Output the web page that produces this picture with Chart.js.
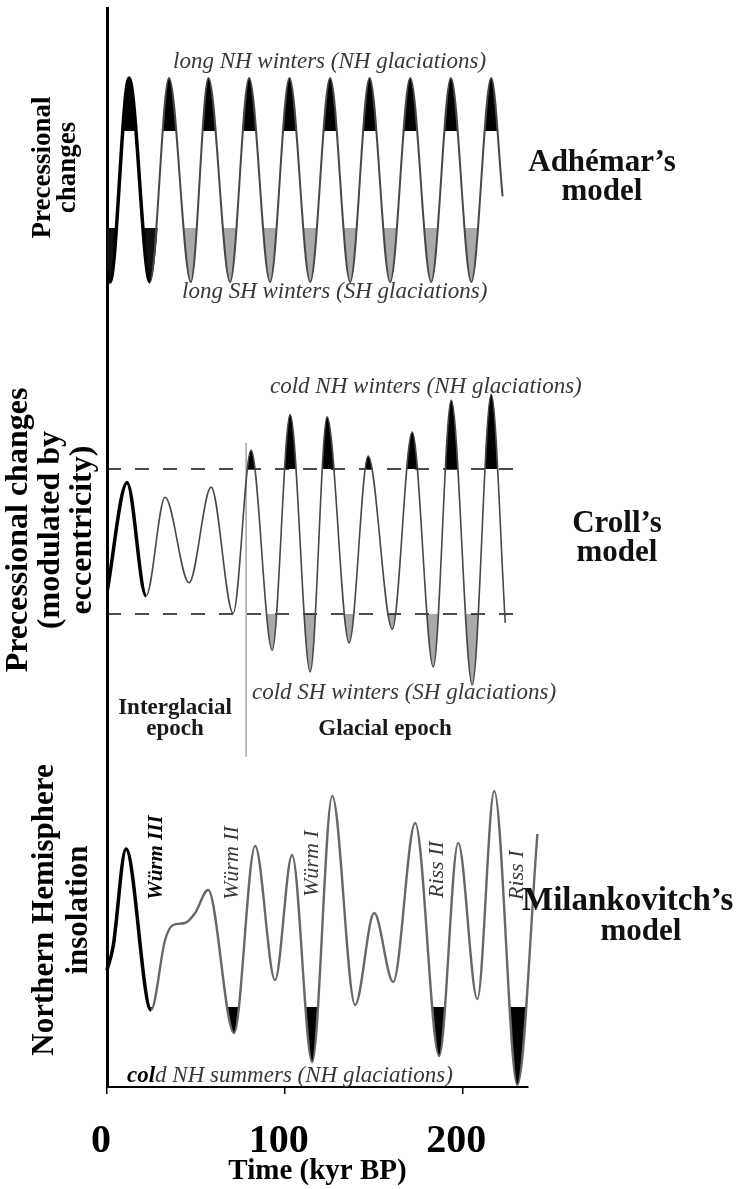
<!DOCTYPE html>
<html>
<head>
<meta charset="utf-8">
<title>Adhémar, Croll and Milankovitch models</title>
<script src="https://cdn.jsdelivr.net/npm/chart.js@4.4.1/dist/chart.umd.min.js"></script>
<style>
html,body{margin:0;padding:0;background:#fff;}
#c{display:block;}
</style>
</head>
<body>
<canvas id="c" width="756" height="1189"></canvas>
<script>
// ---------- shared time axis (kyr BP) ----------
const xTickValues = [0, 100, 200];
const xTickLabels = ['0', '100', '200'];

// ---------- Adhémar's model: precessional changes (normalised) ----------
const adhemarTime  = [0, 1.7, 12.4, 24.2, 34.9, 47.2, 57.1, 69.3, 80.0, 91.8, 102.7, 114.4, 125.6, 136.9, 147.8, 159.4, 170.7, 182.5, 193.6, 205.1, 216.3, 222.7];
const adhemarValue = [-0.89, -1, 1, -1, 1, -1, 1, -1, 1, -1, 1, -1, 1, -1, 1, -1, 1, -1, 1, -1, 1, -0.16];
const adhemarNH = 0.48;   // long NH winters above this level
const adhemarSH = -0.47;  // long SH winters below this level

// ---------- Croll's model: precession modulated by eccentricity ----------
const crollTime  = [0, 11.3, 22.0, 32.7, 46.2, 58.6, 71.0, 81.1, 93.0, 103.1, 114.4, 123.9, 136.3, 147.0, 160.6, 171.8, 183.7, 193.8, 205.6, 216.3, 224.2];
const crollValue = [-0.70, 0.81, -0.75, 0.61, -0.57, 0.75, -0.99, 1.26, -1.50, 1.75, -1.80, 1.72, -1.40, 1.18, -1.21, 1.51, -1.73, 1.95, -1.98, 2.03, -1.12];
const crollNH = 1;        // cold NH winters above
const crollSH = -1;       // cold SH winters below
const crollLevelTime = [0, 230.4];
const epochBoundaryTime = [78.3, 78.3];
const epochBoundaryValue = [1.36, -2.97];

// ---------- Milankovitch's model: NH summer insolation ----------
const milankTime  = [0, 3.4, 10.7, 24.8, 32.7, 37.2, 43.9, 49.6, 56.9, 71.5, 83.4, 94.6, 104.2, 115.5, 126.8, 139.7, 150.4, 161.1, 173.5, 187.0, 197.7, 208.5, 218.0, 231.0, 242.3];
const milankValue = [9.2, 15.0, 39.5, -0.75, 16.75, 20.5, 21.0, 23.5, 29.25, -6.5, 40.25, 6.75, 38.0, -13.75, 52.75, 0.5, 23.5, 6.25, 46.0, -12.25, 41.0, 2.0, 54.0, -19.5, 43.25];
const milankCold = 0;     // cold NH summers below

// ---------- helpers ----------
const pts = (xs, ys) => xs.map((x, i) => ({x: x, y: ys[i]}));
const SERIF = '"Liberation Serif", "Times New Roman", serif';
Chart.defaults.font.family = SERIF;

const GRAY_LINE = '#484848';
const BOLD = 3.5;
const boldUntil = n => ({
  borderColor: ctx => ctx.p0DataIndex < n ? '#000' : undefined,
  borderWidth: ctx => ctx.p0DataIndex < n ? BOLD : undefined
});
const base = {type: 'line', pointRadius: 0, pointHoverRadius: 0, cubicInterpolationMode: 'monotone'};

const datasets = [
  Object.assign({}, base, {
    label: 'Adhémar', yAxisID: 'yA', data: pts(adhemarTime, adhemarValue),
    borderColor: GRAY_LINE, borderWidth: 2, segment: boldUntil(3),
    fill: {target: {value: adhemarNH}, above: '#000', below: 'rgba(0,0,0,0)'}
  }),
  Object.assign({}, base, {
    label: 'Croll', yAxisID: 'yC', data: pts(crollTime, crollValue),
    borderColor: GRAY_LINE, borderWidth: 1.6, segment: boldUntil(2),
    fill: {target: {value: crollNH}, above: '#000', below: 'rgba(0,0,0,0)'}
  }),
  Object.assign({}, base, {
    label: 'Milankovitch', yAxisID: 'yM', data: pts(milankTime, milankValue),
    borderColor: '#676767', borderWidth: 2.4, segment: boldUntil(3), clip: false,
    fill: {target: {value: milankCold}, above: 'rgba(0,0,0,0)', below: '#000'}
  }),
  Object.assign({}, base, {
    label: 'epoch boundary', yAxisID: 'yC', data: pts(epochBoundaryTime, epochBoundaryValue),
    borderColor: '#777', borderWidth: 1, fill: false, clip: false
  }),
  Object.assign({}, base, {
    label: 'upper level', yAxisID: 'yC', data: pts(crollLevelTime, [crollNH, crollNH]),
    borderColor: '#111', borderWidth: 1.6, borderDash: [14, 14], fill: false
  }),
  Object.assign({}, base, {
    label: 'lower level', yAxisID: 'yC', data: pts(crollLevelTime, [crollSH, crollSH]),
    borderColor: '#111', borderWidth: 1.6, borderDash: [14, 14], fill: false
  }),
  Object.assign({}, base, {
    label: 'Adhémar early SH', yAxisID: 'yA', data: pts(adhemarTime.slice(0, 5), adhemarValue.slice(0, 5)),
    borderColor: 'rgba(0,0,0,0)', borderWidth: 0,
    fill: {target: {value: adhemarSH}, above: 'rgba(0,0,0,0)', below: '#111'}
  }),
  Object.assign({}, base, {
    label: 'Adhémar SH', yAxisID: 'yA', data: pts(adhemarTime, adhemarValue),
    borderColor: 'rgba(0,0,0,0)', borderWidth: 0,
    fill: {target: {value: adhemarSH}, above: 'rgba(0,0,0,0)', below: '#a9a9a9'}
  }),
  Object.assign({}, base, {
    label: 'Croll SH', yAxisID: 'yC', data: pts(crollTime, crollValue),
    borderColor: 'rgba(0,0,0,0)', borderWidth: 0,
    fill: {target: {value: crollSH}, above: 'rgba(0,0,0,0)', below: '#a9a9a9'}
  })
];

const leftAxis = (weight, min, max, lines, size, lh, pad) => ({
  type: 'linear', position: 'left', stack: 'panels', stackWeight: weight,
  min: min, max: max,
  grid: {display: false, drawTicks: false},
  ticks: {display: false},
  border: {display: true, color: '#000', width: 3},
  title: {display: true, text: lines, color: '#000',
          font: {family: SERIF, size: size, weight: 'bold', lineHeight: lh + 'px'},
          padding: {top: pad, bottom: 0}},
  afterFit: s => { s.width = 107; }
});

const annotations = {
  id: 'annotations',
  afterDraw(chart) {
    const c = chart.ctx;
    const text = (str, x, y, font, color, align, angle) => {
      c.save();
      c.font = font; c.fillStyle = color;
      c.textAlign = align || 'left'; c.textBaseline = 'alphabetic';
      c.translate(x, y);
      if (angle) c.rotate(angle);
      c.fillText(str, 0, 0);
      c.restore();
      c.font = font;
      return c.measureText(str).width;
    };
    const IT = 'italic 23px ' + SERIF;
    const GR = '#383838';
    const UP = -Math.PI / 2;
    // Adhémar
    text('long NH winters (NH glaciations)', 173, 68, IT, GR);
    text('long SH winters (SH glaciations)', 182, 298, IT, GR);
    // Croll
    text('cold NH winters (NH glaciations)', 270, 393, IT, GR);
    text('cold SH winters (SH glaciations)', 252, 699, IT, GR);
    const EP = 'bold 23px ' + SERIF;
    text('Interglacial', 175, 714, EP, '#1a1a1a', 'center');
    text('epoch', 175, 735, EP, '#1a1a1a', 'center');
    text('Glacial epoch', 385, 735, EP, '#1a1a1a', 'center');
    // Milankovitch stage names
    text('Würm III', 162, 900, 'bold italic 21px ' + SERIF, '#000', 'left', UP);
    const ST = 'italic 22px ' + SERIF;
    text('Würm II', 238, 900, ST, GR, 'left', UP);
    text('Würm I', 318, 897, ST, GR, 'left', UP);
    text('Riss II', 443, 898, ST, GR, 'left', UP);
    text('Riss I', 523, 900, ST, GR, 'left', UP);
    const w = text('col', 127, 1082, 'bold italic 23px ' + SERIF, '#000');
    text('d NH summers (NH glaciations)', 127 + w, 1082, IT, GR);
    // model names
    const MF = 'bold 31px ' + SERIF;
    text('Adhémar’s', 602, 171, MF, '#111', 'center');
    text('model', 602, 200, MF, '#111', 'center');
    text('Croll’s', 617, 532, MF, '#111', 'center');
    text('model', 617, 561, MF, '#111', 'center');
    text('Milankovitch’s', 522, 910, 'bold 33px ' + SERIF, '#111', 'left');
    text('model', 641, 940, MF, '#111', 'center');
  }
};

new Chart(document.getElementById('c'), {
  type: 'line',
  data: {datasets: datasets},
  options: {
    responsive: false, animation: false, devicePixelRatio: 1,
    layout: {padding: {left: 0, top: 8, right: 228, bottom: 0}},
    plugins: {legend: {display: false}, tooltip: {enabled: false}},
    events: [],
    scales: {
      x: {
        type: 'linear', position: 'bottom', min: 0, max: 237,
        afterBuildTicks: s => { s.ticks = xTickValues.map(v => ({value: v})); },
        ticks: {
          callback: v => xTickLabels[xTickValues.indexOf(v)],
          font: {family: SERIF, size: 40, weight: 'bold'}, color: '#000',
          padding: 24, labelOffset: -6, maxRotation: 0, autoSkip: false
        },
        grid: {display: true, drawOnChartArea: false, drawTicks: true, tickLength: 7, color: '#000', lineWidth: 1.5},
        border: {display: true, color: '#000', width: 2},
        title: {display: true, text: 'Time (kyr BP)', color: '#000',
                font: {family: SERIF, size: 29, weight: 'bold'}, padding: {top: 0, bottom: 0}},
        afterFit: s => { s.height = 102; }
      },
      // stacked panels: the last listed scale is placed on top
      yM: leftAxis(354, -20, 68.5, ['Northern Hemisphere', 'insolation'], 31, 34, 28),
      yC: leftAxis(406, -2.6414, 2.9586, ['Precessional changes', '(modulated by', 'eccentricity)'], 32, 32, 3),
      yA: leftAxis(319, -1.4412, 1.6863, ['Precessional', 'changes'], 27, 25, 31)
    }
  },
  plugins: [annotations]
});
</script>
</body>
</html>
